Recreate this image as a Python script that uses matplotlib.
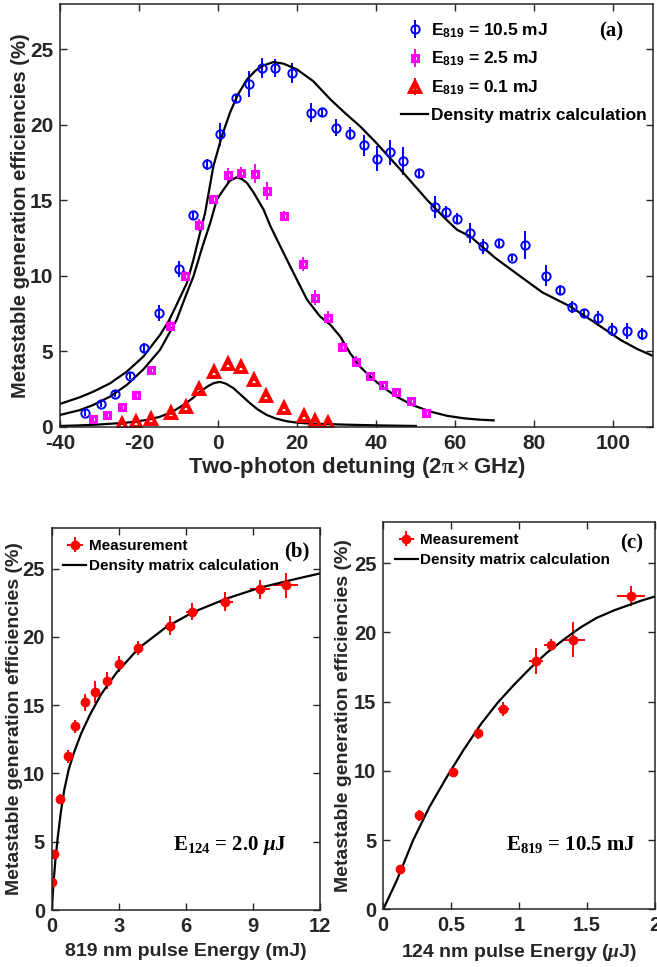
import numpy as np
import matplotlib
matplotlib.use("Agg")
import matplotlib.pyplot as plt

plt.rcParams['font.family'] = ['Liberation Sans', 'DejaVu Sans']
plt.rcParams['font.weight'] = 'bold'
plt.rcParams['mathtext.fontset'] = 'custom'
plt.rcParams['mathtext.rm'] = 'Liberation Serif:bold'
plt.rcParams['mathtext.bf'] = 'Liberation Serif:bold'
plt.rcParams['mathtext.sf'] = 'Liberation Sans:bold'
plt.rcParams['mathtext.it'] = 'Liberation Serif:italic:bold'

GREY = '#262626'

# ---------------- panel (a) data ----------------
blue_x = [-33.7, -29.7, -26.1, -22.2, -18.7, -14.9, -10.0, -6.4, -2.8, 0.6, 4.4, 7.9, 11.1, 14.4,
          18.6, 23.6, 26.4, 29.8, 33.4, 36.8, 40.3, 43.6, 46.8, 50.9, 54.8, 57.6, 60.3, 63.8,
          67.1, 71.1, 74.3, 77.7, 82.9, 86.6, 89.5, 92.5, 96.1, 99.7, 103.4, 107.1]
blue_y = [0.93, 1.49, 2.2, 3.38, 5.2, 7.52, 10.46, 14.0, 17.37, 19.36, 21.74, 22.7, 23.74, 23.74,
          23.4, 20.8, 20.84, 19.8, 19.4, 18.65, 17.76, 18.18, 17.6, 16.8, 14.56, 14.2, 13.78, 12.83,
          11.94, 12.17, 11.2, 12.04, 10.0, 9.07, 7.92, 7.52, 7.17, 6.42, 6.35, 6.15]
blue_err = [0.2, 0.2, 0.25, 0.25, 0.33, 0.55, 0.53, 0.25, 0.35, 0.75, 0.3, 0.83, 0.66, 0.6,
            0.66, 0.64, 0.3, 0.55, 0.44, 0.7, 0.83, 0.83, 0.9, 0.3, 0.74, 0.4, 0.35, 0.64,
            0.5, 0.25, 0.25, 0.92, 0.7, 0.3, 0.4, 0.3, 0.48, 0.42, 0.53, 0.39]

mag_x = [-31.6, -28.0, -24.3, -20.8, -17.0, -12.1, -8.4, -4.9, -1.2, 2.45, 5.8, 9.3, 12.4, 16.7,
         21.4, 24.4, 27.8, 31.3, 34.8, 38.3, 41.6, 45.0, 48.7, 52.7]
mag_y = [0.49, 0.75, 1.29, 2.12, 3.76, 6.64, 10.0, 13.38, 15.1, 16.64, 16.79, 16.77, 15.64, 13.98,
         10.78, 8.54, 7.23, 5.31, 4.31, 3.36, 2.77, 2.28, 1.71, 0.93]
mag_err = [0.15, 0.15, 0.2, 0.2, 0.25, 0.4, 0.3, 0.4, 0.25, 0.5, 0.4, 0.6, 0.6, 0.3,
           0.45, 0.5, 0.45, 0.3, 0.35, 0.25, 0.25, 0.25, 0.2, 0.2]

red_x = [-24.2, -20.8, -17.0, -12.0, -8.2, -4.8, -1.1, 2.45, 5.75, 9.2, 12.2, 16.7, 21.6, 24.4, 27.7]
red_y = [0.18, 0.33, 0.51, 0.89, 1.33, 2.48, 3.65, 4.16, 3.94, 3.1, 2.06, 1.24, 0.71, 0.4, 0.27]
red_err = [0.08] * len(red_x)

# density matrix calculation curves
c1_x = [-40, -35, -31.6, -27.3, -23.1, -18.9, -14.7, -12.5, -10.5, -7.9, -6.25, -5.0, -3.3, -1.2,
        1.0, 3.0, 5.0, 7.3, 9.5, 11.5, 14.0, 16.5, 19.9, 24.0, 28.4, 32.0, 35.9, 40.0, 46.9,
        52.8, 57.0, 60.4, 63.8, 70.0, 76.5, 82.0, 89.1, 95.0, 101.8, 106.0, 110.0]
c1_y = [1.51, 1.95, 2.32, 2.88, 3.65, 4.65, 6.08, 7.0, 8.08, 9.52, 11.06, 12.39, 14.16, 17.25,
        19.3, 20.8, 22.0, 23.0, 23.6, 23.93, 24.15, 24.05, 23.67, 22.9, 21.68, 20.8, 19.9, 18.8, 16.8,
        15.04, 13.9, 13.05, 12.6, 11.2, 9.95, 8.9, 7.96, 6.95, 5.75, 5.15, 4.69]

c2_x = [-40, -35, -31.6, -27.3, -23.1, -18.9, -14.7, -10.5, -8.0, -6.25, -4.0, -2.0, -0.33, 1.35,
        3.0, 4.7, 6.0, 7.3, 9.0, 11.5, 13.2, 14.9, 17.4, 20.0, 22.5, 25.8, 28.4, 30.9, 33.4,
        36.0, 38.5, 41.5, 45.2, 49.0, 53.7, 58.0, 62.1, 66.0, 69.7]
c2_y = [0.78, 1.1, 1.44, 2.0, 2.77, 3.8, 5.09, 7.08, 8.8, 9.95, 11.9, 13.5, 15.04, 15.7,
        16.3, 16.52, 16.4, 16.15, 15.5, 14.38, 13.3, 12.39, 11.06, 9.7, 8.41, 7.3, 6.75, 5.97, 4.87,
        3.95, 3.32, 2.65, 1.99, 1.45, 1.0, 0.72, 0.56, 0.47, 0.42]

c3_x = [-40, -35, -30, -23.1, -18.0, -14.7, -11.5, -8.8, -6.5, -4.6, -2.5, -1.0, 0.5, 2.0, 3.9,
        6.0, 8.1, 10.0, 12.3, 14.5, 17.4, 20.0, 22.5, 27.0, 32.0, 40.0, 50.0]
c3_y = [0.05, 0.09, 0.15, 0.27, 0.45, 0.66, 1.0, 1.44, 1.88, 2.32, 2.7, 2.9, 2.97, 2.85, 2.55,
        2.05, 1.55, 1.15, 0.78, 0.55, 0.36, 0.27, 0.22, 0.18, 0.14, 0.09, 0.05]

# ---------------- panel (b) data ----------------
b_x = [0.01, 0.1, 0.37, 0.7, 1.03, 1.49, 1.93, 2.45, 3.01, 3.84, 5.28, 6.28, 7.76, 9.3, 10.47]
b_y = [2.03, 4.1, 8.14, 11.25, 13.45, 15.21, 15.97, 16.8, 18.03, 19.2, 20.83, 21.86, 22.59, 23.48, 23.77]
b_xerr = [0.02, 0.03, 0.05, 0.06, 0.07, 0.08, 0.1, 0.12, 0.14, 0.17, 0.22, 0.27, 0.35, 0.45, 0.56]
b_yerr = [0.3, 0.3, 0.35, 0.5, 0.5, 0.6, 0.8, 0.6, 0.6, 0.5, 0.7, 0.6, 0.7, 0.7, 0.93]
b_cx = [0, 0.03, 0.08, 0.15, 0.25, 0.4, 0.55, 0.75, 1.0, 1.3, 1.7, 2.2, 2.9, 3.9, 5.1, 6.3,
        7.8, 9.3, 10.8, 12.0]
b_cy = [0, 1.0, 2.2, 3.6, 5.2, 7.2, 8.8, 10.3, 11.6, 12.9, 14.3, 15.8, 17.4, 19.2, 20.7, 21.8,
        22.8, 23.6, 24.2, 24.65]

# ---------------- panel (c) data ----------------
c_x = [0.123, 0.265, 0.51, 0.70, 0.883, 1.122, 1.234, 1.399, 1.821]
c_y = [2.89, 6.79, 9.92, 12.72, 14.45, 17.92, 19.12, 19.46, 22.64]
c_xerr = [0.02, 0.02, 0.02, 0.03, 0.04, 0.05, 0.05, 0.083, 0.104]
c_yerr = [0.2, 0.4, 0.3, 0.4, 0.5, 0.94, 0.4, 1.26, 0.7]
c_cx = [0, 0.1, 0.22, 0.34, 0.47, 0.59, 0.72, 0.84, 0.96, 1.08, 1.2, 1.33, 1.45, 1.57, 1.7,
        1.8, 1.9, 2.0]
c_cy = [0, 2.1, 5.0, 7.4, 9.6, 11.5, 13.4, 14.9, 16.2, 17.4, 18.5, 19.5, 20.35, 21.05, 21.6,
        21.95, 22.3, 22.6]


def style_axes(ax, xlim, xticks, xticklabels, size):
    ax.set_xlim(*xlim)
    ax.set_ylim(0, 28)
    ax.set_xticks(xticks)
    ax.set_xticklabels(xticklabels)
    ax.set_yticks([0, 5, 10, 15, 20, 25])
    ax.tick_params(direction='in', top=True, right=True, length=5, width=1.0,
                   colors=GREY, labelsize=size, pad=5)
    for lab in ax.get_xticklabels() + ax.get_yticklabels():
        lab.set_fontweight('bold')
    for s in ax.spines.values():
        s.set_linewidth(1.1)
        s.set_color(GREY)


fig = plt.figure(figsize=(6.57, 9.67), dpi=100)

# ---- (a) ----
ax = fig.add_axes([0.0913, 0.5587, 0.9026, 0.4372])
h1 = ax.errorbar(blue_x, blue_y, yerr=blue_err, fmt='o', color='#0000ff', mfc='none', ms=6,
                 mew=1.4, elinewidth=1.4, capsize=0)
h2 = ax.errorbar(mag_x, mag_y, yerr=mag_err, fmt='s', color='#ff00ff', mfc='none', ms=5, mew=2.2,
                 elinewidth=1.4, capsize=0)
h3 = ax.errorbar(red_x, red_y, yerr=red_err, fmt='^', color='#ff0000', mfc='none', ms=6.5,
                 mew=2.8, elinewidth=1.4, capsize=0)
h4, = ax.plot(c1_x, c1_y, color='black', lw=1.6)
ax.plot(c2_x, c2_y, color='black', lw=1.6)
ax.plot(c3_x, c3_y, color='black', lw=1.6)
style_axes(ax, (-40, 110), [-40, -20, 0, 20, 40, 60, 80, 100],
           ['-40', '-20', '0', '20', '40', '60', '80', '100'], 15)
ax.set_xlabel(r'Two-photon detuning (2$\mathrm{\pi}\times$GHz)', fontsize=16, fontweight='bold',
              color=GREY, labelpad=2)
ax.set_ylabel('Metastable generation efficiencies (%)', fontsize=14.5, fontweight='bold',
              color=GREY, labelpad=0)
ax.legend([h1, h2, h3, h4],
          [r'E$_{\mathsf{819}}$ = 10.5 mJ', r'E$_{\mathsf{819}}$ = 2.5 mJ',
           r'E$_{\mathsf{819}}$ = 0.1 mJ', 'Density matrix calculation'],
          loc='upper left', bbox_to_anchor=(0.555, 0.988), frameon=False, fontsize=12.5,
          handlelength=1.55, handletextpad=0.15, labelspacing=0.6, borderaxespad=0.3)
ax.text(0.93, 0.934, '(a)', transform=ax.transAxes, ha='center', va='center',
        fontsize=15, fontweight='bold', family='Liberation Serif')

# ---- (b) ----
axb = fig.add_axes([0.0791, 0.0589, 0.4079, 0.3954])
hb1 = axb.errorbar(b_x, b_y, xerr=b_xerr, yerr=b_yerr, fmt='o', color='#ff0000', ms=6,
                   elinewidth=1.4, capsize=0)
hb2, = axb.plot(b_cx, b_cy, color='black', lw=1.6)
style_axes(axb, (0, 12), [0, 3, 6, 9, 12], ['0', '3', '6', '9', '12'], 14.5)
axb.set_xlabel('819 nm pulse Energy (mJ)', fontsize=14, fontweight='bold', color=GREY, labelpad=5)
axb.set_ylabel('Metastable generation efficiencies (%)', fontsize=14, fontweight='bold',
               color=GREY, labelpad=0)
axb.legend([hb1, hb2], ['Measurement', 'Density matrix calculation'],
           loc='upper left', bbox_to_anchor=(0.0, 1.0), frameon=False, fontsize=11,
           handlelength=1.5, handletextpad=0.15, labelspacing=0.4, borderaxespad=0.35)
axb.text(0.914, 0.939, '(b)', transform=axb.transAxes, ha='center', va='center',
         fontsize=15, fontweight='bold', family='Liberation Serif')
axb.text(7.97, 4.7, r'E$_{\mathbf{124}}$ = 2.0 $\mu$J', ha='center', va='center',
         fontsize=15, fontweight='bold', family='Liberation Serif')

# ---- (c) ----
axc = fig.add_axes([0.5834, 0.0597, 0.4136, 0.4008])
hc1 = axc.errorbar(c_x, c_y, xerr=c_xerr, yerr=c_yerr, fmt='o', color='#ff0000', ms=6,
                   elinewidth=1.4, capsize=0)
hc2, = axc.plot(c_cx, c_cy, color='black', lw=1.6)
style_axes(axc, (0, 2), [0, 0.5, 1, 1.5, 2], ['0', '0.5', '1', '1.5', '2'], 14.5)
axc.set_xlabel(r'124 nm pulse Energy ($\mu$J)', fontsize=14, fontweight='bold', color=GREY,
               labelpad=5)
axc.set_ylabel('Metastable generation efficiencies (%)', fontsize=14, fontweight='bold',
               color=GREY, labelpad=1)
axc.legend([hc1, hc2], ['Measurement', 'Density matrix calculation'],
           loc='upper left', bbox_to_anchor=(0.0, 1.0), frameon=False, fontsize=11,
           handlelength=1.5, handletextpad=0.15, labelspacing=0.4, borderaxespad=0.35)
axc.text(0.914, 0.945, '(c)', transform=axc.transAxes, ha='center', va='center',
         fontsize=15, fontweight='bold', family='Liberation Serif')
axc.text(1.378, 4.7, r'E$_{\mathbf{819}}$ = 10.5 mJ', ha='center', va='center',
         fontsize=15, fontweight='bold', family='Liberation Serif')

fig.savefig('out.png', dpi=100)
